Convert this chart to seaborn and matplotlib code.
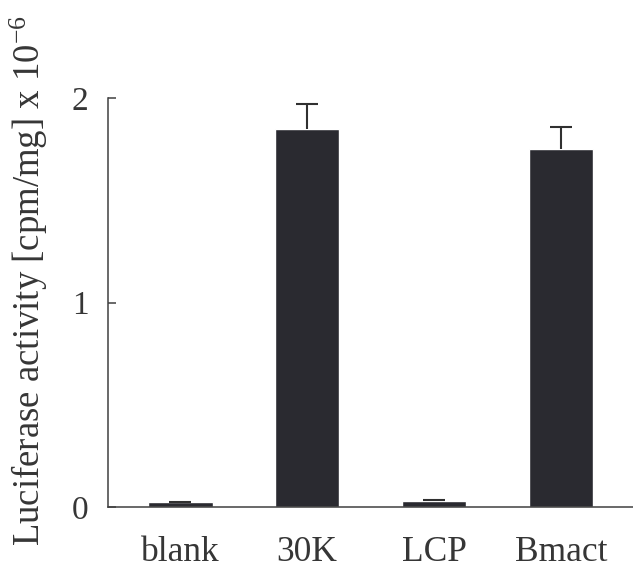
import matplotlib
matplotlib.use("Agg")
import matplotlib.pyplot as plt
import seaborn as sns
import numpy as np

# data
categories = ["blank", "30K", "LCP", "Bmact"]
activity = [0.024, 1.85, 0.03, 1.75]
activity_err = [0.0, 0.12, 0.006, 0.11]
y_ticks = [0, 1, 2]

sns.set_theme(style="white")
plt.rcParams["font.family"] = ["Liberation Serif", "DejaVu Serif"]
plt.rcParams["mathtext.fontset"] = "custom"
plt.rcParams["mathtext.rm"] = "Liberation Serif"
plt.rcParams["mathtext.it"] = "Liberation Serif"

text_col = "#363636"
bar_col = "#2a2a30"

fig = plt.figure(figsize=(6.33, 5.68), dpi=100)
ax = fig.add_axes([108 / 633, 61 / 568, 1 - 108 / 633, 409 / 568])

sns.barplot(x=categories, y=activity, color=bar_col, saturation=1,
            width=0.51, errorbar=None, ax=ax)

# only upper error bars: stem from bar top, cap on top only
x_pos = np.arange(len(categories))
tops = np.array(activity) + np.array(activity_err)
ax.vlines(x_pos, activity, tops, color="#303030", linewidth=1.5)
ax.plot(x_pos, tops, linestyle="none", marker="_", markersize=16,
        markeredgewidth=1.5, color="#303030", clip_on=False)

ax.set_xlim(-0.569, 3.568)
ax.set_ylim(0, 2)
ax.set_yticks(y_ticks)
ax.set_yticklabels([str(t) for t in y_ticks])

sns.despine(ax=ax, top=True, right=True)
for side in ["left", "bottom"]:
    ax.spines[side].set_color("#404040")
    ax.spines[side].set_linewidth(1.1)

ax.tick_params(axis="y", direction="in", length=6, width=1.1, color="#404040",
               pad=14, labelsize=24, labelcolor=text_col, left=True)
ax.tick_params(axis="x", length=0, pad=21, labelsize=25.5, labelcolor=text_col)
ax.set_xlabel("")

ax.set_ylabel(r"Luciferase activity [cpm/mg] x 10$^{-6}$", fontsize=26.5,
              color=text_col)
ax.yaxis.set_label_coords(-0.11, 0.555)

fig.savefig("out.png", dpi=100)
plt.close(fig)
